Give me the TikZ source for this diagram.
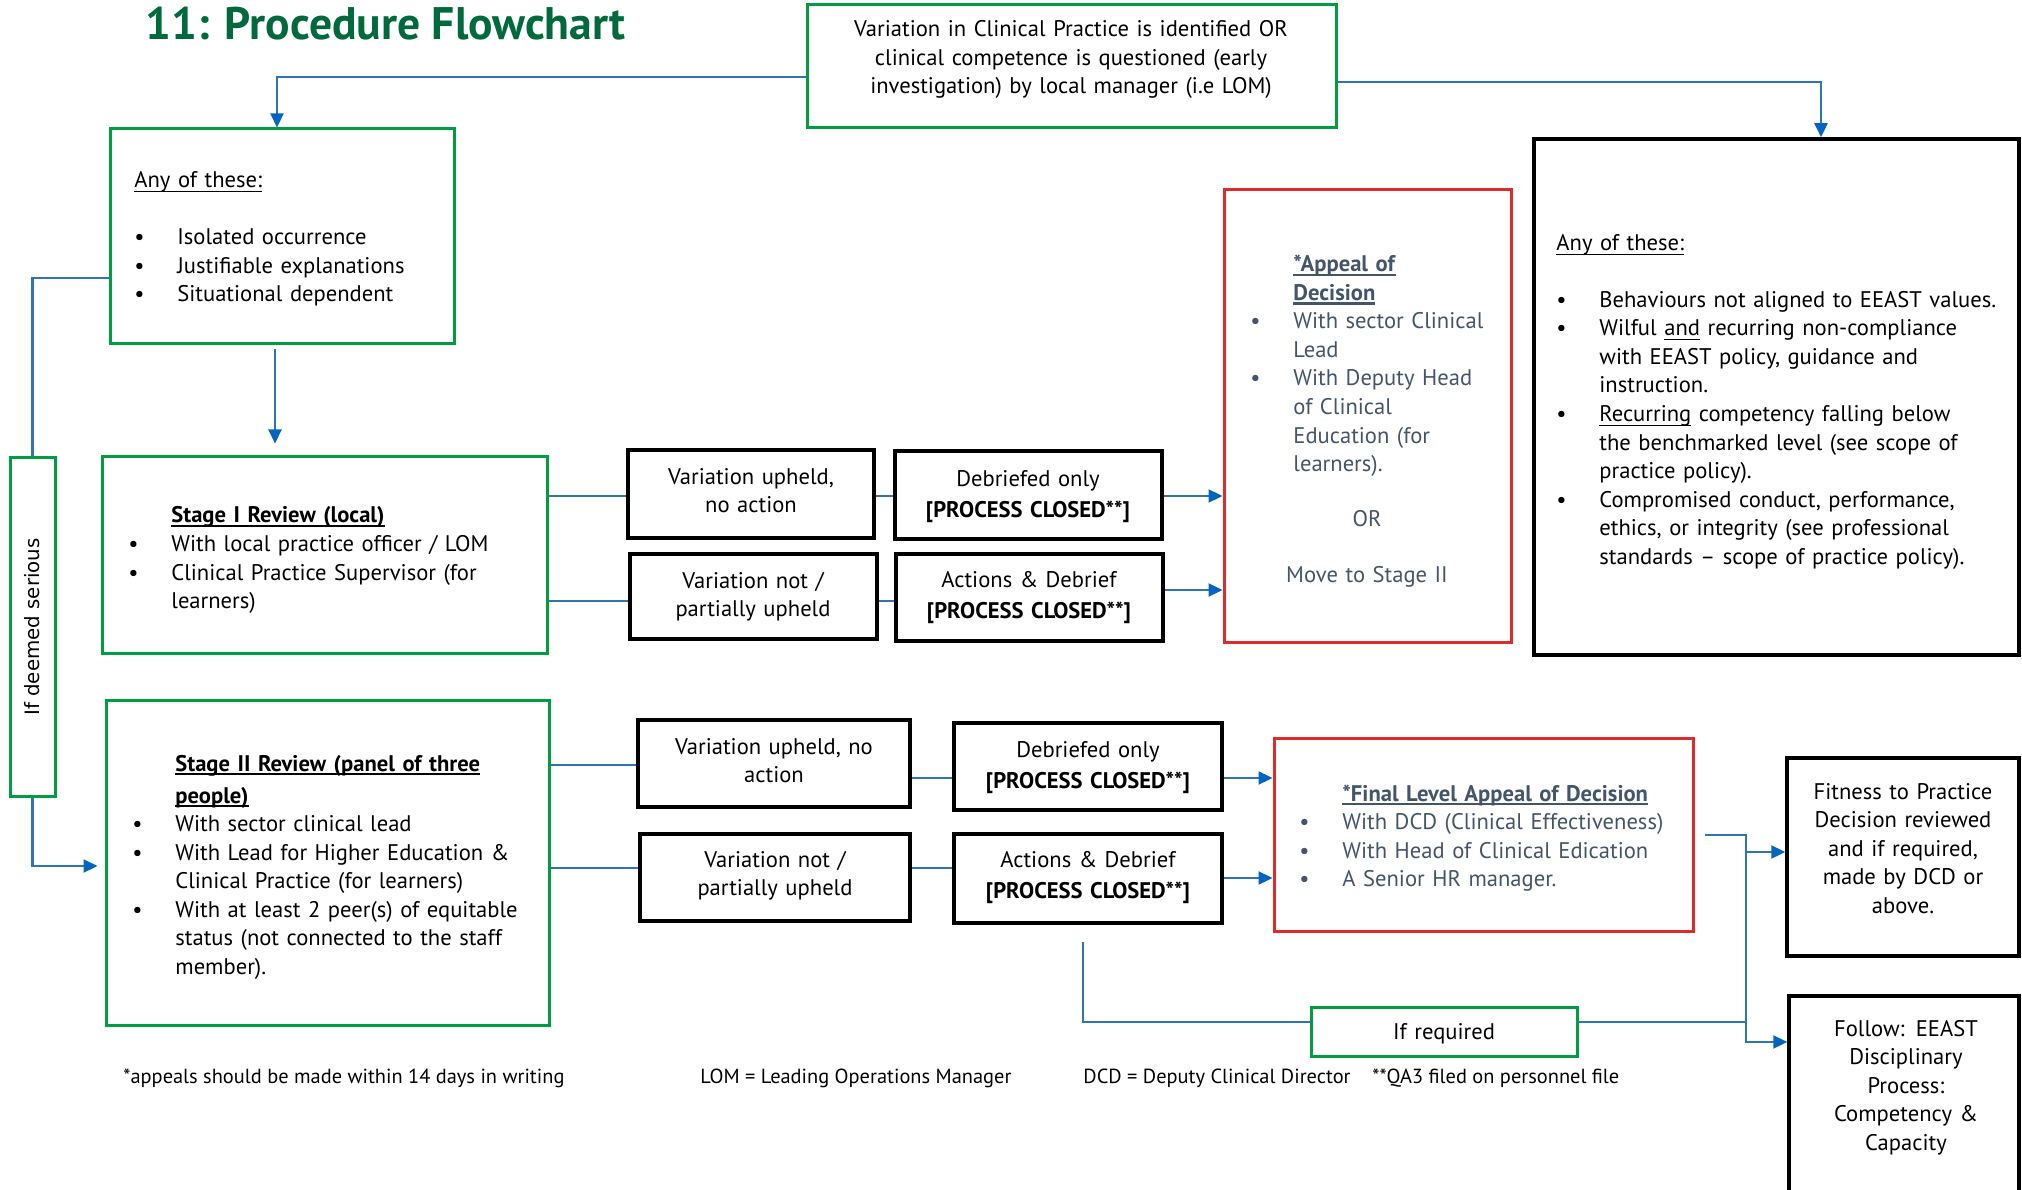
\documentclass[tikz,border=0pt]{standalone}
\usepackage{fontspec}
\setmainfont{PT Sans}
\newfontfamily\vertfont{DejaVu Sans}
\usetikzlibrary{arrows.meta,fit}

\definecolor{boxgreen}{RGB}{0,158,64}
\definecolor{boxred}{RGB}{225,42,42}
\definecolor{linkblue}{RGB}{46,117,182}
\definecolor{tipblue}{RGB}{5,99,193}
\definecolor{slate}{RGB}{68,84,106}
\definecolor{titlegreen}{RGB}{0,106,61}

\newcommand{\bodyfont}{\fontsize{11.3bp}{14.25bp}\selectfont}
\newcommand{\itm}{\makebox[21.5bp][l]{\textbullet}}
\newcommand{\cnt}{\hspace*{21.5bp}}
\newcommand{\undl}[2][0.6bp]{\leavevmode\setbox0\hbox{#2}\rlap{\rule[-2.2bp]{\wd0}{#1}}\box0}

\tikzset{
  gbox/.style={draw=boxgreen, line width=1.5bp, inner sep=0pt},
  kbox/.style={draw=black, line width=1.75bp, inner sep=0pt},
  rbox/.style={draw=boxred, line width=1.5bp, inner sep=0pt},
  link/.style={draw=linkblue, line width=1.1bp},
  arr/.style={link, -{Triangle[length=7bp,width=6.5bp,color=tipblue]}},
  body/.style={font=\bodyfont, inner sep=0pt, text width=#1, align=left, anchor=base west, yshift=-1.5bp},
  body/.default=250bp,
  mid/.style={font=\bodyfont, inner sep=0pt, text width=#1, align=center, anchor=base, yshift=-1.5bp},
  mid/.default=125bp,
  foot/.style={font=\fontsize{10.2bp}{12bp}\selectfont, inner sep=0pt, anchor=base west}
}

\begin{document}
\begin{tikzpicture}[x=0.5bp, y=-0.5bp]
    \useasboundingbox (0,0) rectangle (2022,1190);
    \clip (0,0) rectangle (2022,1190);

    % title
    \node[anchor=base west, inner sep=0pt, text=titlegreen, font=\fontsize{22.8bp}{26bp}\selectfont\bfseries] (title) at (145,40) {11: Procedure Flowchart};

    % boxes
    \node[gbox, fit={(807,5) (1336,128)}] (top) {};
    \node[gbox, fit={(110,129) (454,344)}] (anyL) {};
    \node[gbox, fit={(10,458) (55,796)}] (serious) {};
    \node[gbox, fit={(102,457) (547,653)}] (stageI) {};
    \node[kbox, fit={(628,450) (874,538)}] (upI) {};
    \node[kbox, fit={(630,554) (877,639)}] (notI) {};
    \node[kbox, fit={(895,451) (1162,539)}] (debI) {};
    \node[kbox, fit={(896,554) (1163,641)}] (actI) {};
    \node[rbox, fit={(1224,190) (1511,642)}] (appI) {};
    \node[kbox, fit={(1534,139) (2019,655)}] (anyR) {};
    \node[gbox, fit={(106,700) (549,1025)}] (stageII) {};
    \node[kbox, fit={(638,720) (910,807)}] (upII) {};
    \node[kbox, fit={(640,834) (910,921)}] (notII) {};
    \node[kbox, fit={(954,723) (1222,810)}] (debII) {};
    \node[kbox, fit={(954,834) (1222,923)}] (actII) {};
    \node[rbox, fit={(1274,738) (1693,931)}] (appII) {};
    \node[gbox, fit={(1311,1007) (1577,1056)}] (ifreq) {};
    \node[kbox, fit={(1787,758) (2019,956)}] (fitp) {};
    \node[kbox, fit={(1789,996) (2019,1215)}] (follow) {};

    % texts
    \node[mid=260bp] (topT) at (1071,34) {Variation in Clinical Practice is identified OR\\
        clinical competence is questioned (early\\ investigation) by local manager (i.e LOM)};
    \node[body] (anyLT) at (134,185) {\undl{Any of these:}\\[14.25bp]
        \itm Isolated occurrence\\ \itm Justifiable explanations\\ \itm Situational dependent};
    \node[rotate=90, inner sep=0pt, font=\vertfont\fontsize{9.9bp}{12bp}\selectfont] (seriousT) at (serious.center) {If deemed serious};
    \node[body] (stageIT) at (128,520) {\cnt\undl[1.3bp]{\textbf{Stage I Review (local)}}\\
        \itm With local practice officer / LOM\\ \itm Clinical Practice Supervisor (for\\ \cnt learners)};
    \node[mid] (upIT) at (751,481) {Variation upheld,\\ no action};
    \node[mid] (notIT) at (753,585) {Variation not /\\ partially upheld};
    \node[mid] (debIT) at (1028,483) {Debriefed only\\[1.5bp] \textbf{[PROCESS CLOSED**]}};
    \node[mid] (actIT) at (1029,584) {Actions \& Debrief\\[1.5bp] \textbf{[PROCESS CLOSED**]}};
    \node[body, text=slate] (appIT) at (1250,269) {\cnt\undl[1.3bp]{\textbf{*Appeal of}}\\
        \cnt\undl[1.3bp]{\textbf{Decision}}\\ \itm With sector Clinical\\ \cnt Lead\\
        \itm With Deputy Head\\ \cnt of Clinical\\ \cnt Education (for\\ \cnt learners).};
    \node[mid, text=slate] (orT) at (1367,524) {OR\\[13.25bp] Move to Stage II};
    \node[body] (anyRT) at (1556,248) {\undl{Any of these:}\\[14bp]
        \itm Behaviours not aligned to EEAST values.\\
        \itm Wilful \undl{and}\ recurring non-compliance\\ \cnt with EEAST policy, guidance and\\ \cnt instruction.\\
        \itm \undl{Recurring}\ competency falling below\\ \cnt the benchmarked level (see scope of\\ \cnt practice policy).\\
        \itm Compromised conduct, performance,\\ \cnt ethics, or integrity (see professional\\ \cnt standards -- scope of practice policy).};
    \node[body] (stageIIT) at (132,768) {\cnt\undl[1.3bp]{\textbf{Stage II Review (panel of three}}\\[1.75bp]
        \cnt\undl[1.3bp]{\textbf{people)}}\\ \itm With sector clinical lead\\
        \itm With Lead for Higher Education \&\\ \cnt Clinical Practice (for learners)\\
        \itm With at least 2 peer(s) of equitable\\ \cnt status (not connected to the staff\\ \cnt member).};
    \node[mid] (upIIT) at (774,751) {Variation upheld, no\\ action};
    \node[mid] (notIIT) at (775,864) {Variation not /\\ partially upheld};
    \node[mid] (debIIT) at (1088,754) {Debriefed only\\[1.5bp] \textbf{[PROCESS CLOSED**]}};
    \node[mid] (actIIT) at (1088,864) {Actions \& Debrief\\[1.5bp] \textbf{[PROCESS CLOSED**]}};
    \node[body, text=slate] (appIIT) at (1299,798) {\cnt\undl[1.3bp]{\textbf{*Final Level Appeal of Decision}}\\
        \itm With DCD (Clinical Effectiveness)\\ \itm With Head of Clinical Edication\\ \itm A Senior HR manager.};
    \node[mid] (ifreqT) at (1444,1036) {If required};
    \node[mid] (fitpT) at (1903,796) {Fitness to Practice\\ Decision reviewed\\ and if required,\\ made by DCD or\\ above.};
    \node[mid] (followT) at (1906,1033) {Follow: EEAST\\ Disciplinary\\ Process:\\ Competency \&\\ Capacity};

    % footnotes
    \node[foot] (fnA) at (123,1083) {*appeals should be made within 14 days in writing};
    \node[foot] (fnB) at (700,1083) {LOM = Leading Operations Manager};
    \node[foot] (fnC) at (1083,1083) {DCD = Deputy Clinical Director};
    \node[foot] (fnD) at (1372,1083) {**QA3 filed on personnel file};

    % connectors
    \draw[arr] (top.west |- 0,77) -| (anyL.north -| 277,0);
    \draw[arr] (top.east |- 0,82) -| (anyR.north -| 1821,0);
    \draw[arr, shorten <=2bp, shorten >=6bp] (anyL.south -| 275,0) -- (stageI.north -| 275,0);
    \draw[link] (anyL.west |- 0,278) -| (serious.north);
    \draw[arr, shorten >=3.5bp] (serious.south) |- (stageII.west |- 0,866);

    \draw[link] (stageI.east |- 0,496) -- (upI.west |- 0,496);
    \draw[link] (stageI.east |- 0,601) -- (notI.west |- 0,601);
    \draw[link] (upI.east |- 0,496) -- (debI.west |- 0,496);
    \draw[link] (notI.east |- 0,601) -- (actI.west |- 0,601);
    \draw[arr] (debI.east |- 0,496) -- (appI.west |- 0,496);
    \draw[arr] (actI.east |- 0,590) -- (appI.west |- 0,590);

    \draw[link] (stageII.east |- 0,765) -- (upII.west |- 0,765);
    \draw[link] (stageII.east |- 0,868) -- (notII.west |- 0,868);
    \draw[link] (upII.east |- 0,778) -- (debII.west |- 0,778);
    \draw[link] (notII.east |- 0,868) -- (actII.west |- 0,868);
    \draw[arr] (debII.east |- 0,778) -- (appII.west |- 0,778);
    \draw[arr] (actII.east |- 0,878) -- (appII.west |- 0,878);

    \coordinate (bus) at (1746,1042);
    \coordinate (ifsrc) at (1083,942);
    \draw[arr] (appII.east |- 0,835) ++(5bp,0) -| (bus) -- (follow.west |- bus);
    \draw[arr] (bus |- 0,852) -- (fitp.west |- 0,852);
    \draw[link] (ifsrc) |- (ifreq.west |- 0,1022);
    \draw[link] (ifreq.east |- 0,1022) -- (bus |- 0,1022);
\end{tikzpicture}
\end{document}
